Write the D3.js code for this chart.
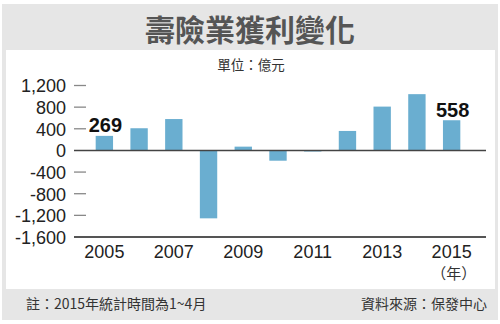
<!DOCTYPE html>
<html>
<head>
<meta charset="utf-8">
<script src="https://cdn.jsdelivr.net/npm/d3@7"></script>
<style>
  html, body { margin: 0; padding: 0; background: #fff; }
  svg { display: block; }
</style>
</head>
<body>
<svg id="chart" width="500" height="324"></svg>
<script>
// Life insurance industry profit by year (unit: NT$ 100 million)
const years = ["2005","2006","2007","2008","2009","2010","2011","2012","2013","2014","2015"];
const profits = [269, 410, 580, -1255, 70, -190, -20, 360, 810, 1040, 558];
const yTicks = [1200, 800, 400, 0, -400, -800, -1200, -1600];
const xTickLabels = ["2005","2007","2009","2011","2013","2015"];
const labelledYears = ["2005","2015"];

const title = "壽險業獲利變化";
const unitText = "單位：億元";
const noteText = "註：2015年統計時間為1~4月";
const sourceText = "資料來源：保發中心";
const yearUnit = "（年）";

const latin = "'Liberation Sans', Arial, sans-serif";
const cjk = "'Noto Sans CJK TC', 'Noto Sans CJK SC', sans-serif";

const svg = d3.select("#chart");

// Frame: gray panel with a white plotting card inset
svg.append("rect").attr("x", 2).attr("y", 4).attr("width", 496).attr("height", 316).attr("fill", "#e6e6e6");
svg.append("rect").attr("x", 6).attr("y", 50).attr("width", 489).attr("height", 239).attr("fill", "#ffffff");

// Title
svg.append("text")
  .attr("x", 250).attr("y", 41)
  .attr("text-anchor", "middle")
  .attr("font-family", cjk).attr("font-weight", 700)
  .attr("font-size", 30).attr("fill", "#555")
  .text(title);

// Unit
svg.append("text")
  .attr("x", 251).attr("y", 70)
  .attr("text-anchor", "middle")
  .attr("font-family", cjk).attr("font-size", 13.5).attr("fill", "#333")
  .text(unitText);

// Scales
const x = d3.scaleBand().domain(years).range([87, 469]).paddingInner(0.5).paddingOuter(0.25);
const y = d3.scaleLinear().domain([-1600, 1200]).range([237, 85.5]);

// Y axis: short tick dashes with right-aligned labels (plain hyphen for negatives)
const fmt = d3.format(",");
const yAxis = d3.axisLeft(y).tickValues(yTicks).tickSize(0).tickPadding(0)
  .tickFormat(d => fmt(d).replace("\u2212", "-"));
const gy = svg.append("g").attr("transform", "translate(66,0)").call(yAxis);
gy.select(".domain").remove();
gy.selectAll("text")
  .attr("font-family", latin).attr("font-size", 18).attr("fill", "#222")
  .attr("dy", "0.35em");
svg.append("g").selectAll("line")
  .data(yTicks.filter(d => d !== 0 && d !== -1600))
  .join("line")
  .attr("x1", 74).attr("x2", 86)
  .attr("y1", d => y(d)).attr("y2", d => y(d))
  .attr("stroke", "#888").attr("stroke-width", 1.3);

// Bars
svg.append("g").selectAll("rect")
  .data(years.map((yr, i) => ({ yr, v: profits[i] })))
  .join("rect")
  .attr("x", d => x(d.yr))
  .attr("width", x.bandwidth())
  .attr("y", d => y(Math.max(0, d.v)))
  .attr("height", d => Math.abs(y(d.v) - y(0)))
  .attr("fill", "#6aaed0");

// Zero line and bottom baseline
svg.append("line").attr("x1", 74).attr("x2", 486).attr("y1", y(0)).attr("y2", y(0))
  .attr("stroke", "#444").attr("stroke-width", 1.5);
svg.append("line").attr("x1", 74).attr("x2", 486).attr("y1", y(-1600)).attr("y2", y(-1600))
  .attr("stroke", "#555").attr("stroke-width", 2);

// X axis labels
const xAxis = d3.axisBottom(x).tickValues(xTickLabels).tickSize(0).tickPadding(0);
const gx = svg.append("g").attr("transform", `translate(0,${y(-1600) + 8})`).call(xAxis);
gx.select(".domain").remove();
gx.selectAll("text")
  .attr("font-family", latin).attr("font-size", 18).attr("fill", "#222")
  .attr("dy", "0.71em");

svg.append("text")
  .attr("x", x("2015") + x.bandwidth() / 2 + 2).attr("y", 279)
  .attr("text-anchor", "middle")
  .attr("font-family", cjk).attr("font-size", 15).attr("fill", "#333")
  .text(yearUnit);

// Value labels
svg.append("g").selectAll("text")
  .data(labelledYears)
  .join("text")
  .attr("x", d => x(d) + x.bandwidth() / 2 + 1)
  .attr("y", d => y(profits[years.indexOf(d)]) - 3.5)
  .attr("text-anchor", "middle")
  .attr("font-family", latin).attr("font-weight", 700)
  .attr("font-size", 20).attr("fill", "#111")
  .text(d => profits[years.indexOf(d)]);

// Footer
svg.append("text")
  .attr("x", 26).attr("y", 309)
  .attr("font-family", cjk).attr("font-size", 14).attr("fill", "#333")
  .text(noteText);
svg.append("text")
  .attr("x", 487).attr("y", 309)
  .attr("text-anchor", "end")
  .attr("font-family", cjk).attr("font-size", 14).attr("fill", "#333")
  .text(sourceText);
</script>
</body>
</html>
